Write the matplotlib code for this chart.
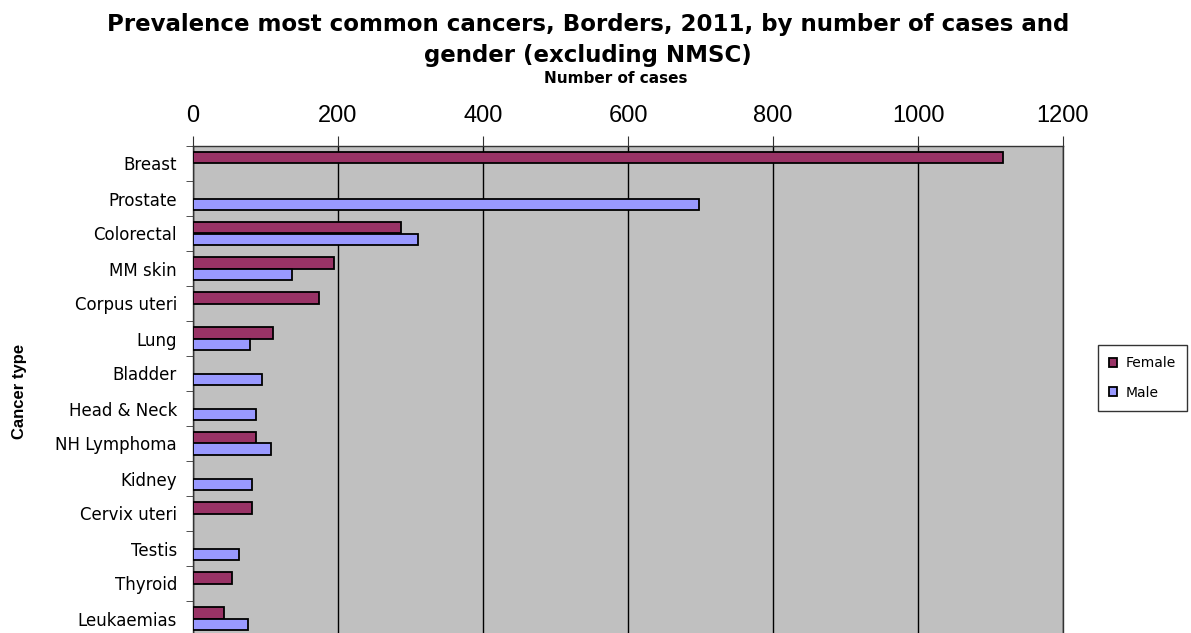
import matplotlib
matplotlib.use("Agg")
import matplotlib.pyplot as plt
import numpy as np

plt.rcParams['font.family'] = ['Liberation Sans', 'DejaVu Sans']

categories = ["Breast", "Prostate", "Colorectal", "MM skin", "Corpus uteri", "Lung",
              "Bladder", "Head & Neck", "NH Lymphoma", "Kidney", "Cervix uteri",
              "Testis", "Thyroid", "Leukaemias"]
female = [1117, 0, 287, 195, 174, 110, 0, 0, 87, 0, 82, 0, 54, 43]
male = [0, 698, 310, 136, 0, 79, 95, 87, 108, 82, 0, 64, 0, 76]
x_ticks = [0, 200, 400, 600, 800, 1000, 1200]

W, H = 1191, 633
fig = plt.figure(figsize=(W / 100, H / 100), dpi=100)
left, right, top, bottom = 193, 1063, 146, 636
ax = fig.add_axes([left / W, 1 - bottom / H, (right - left) / W, (bottom - top) / H])
ax.set_facecolor('#C0C0C0')

y = np.arange(len(categories))
h = 1 / 3
fy = [yy - h / 2 for yy, v in zip(y, female) if v > 0]
fv = [v for v in female if v > 0]
my = [yy + h / 2 for yy, v in zip(y, male) if v > 0]
mv = [v for v in male if v > 0]
ax.barh(fy, fv, height=h, color='#993366', edgecolor='black', linewidth=1.3, label='Female', zorder=3)
ax.barh(my, mv, height=h, color='#9999FF', edgecolor='black', linewidth=1.3, label='Male', zorder=3)

ax.set_xlim(0, 1200)
ax.set_ylim(len(categories) - 0.5, -0.5)
ax.set_xticks(x_ticks)
ax.xaxis.tick_top()
ax.xaxis.set_label_position('top')
ax.tick_params(axis='x', labelsize=17, length=7, pad=7, color='#333333')
ax.set_yticks(y)
ax.set_yticklabels(categories, fontfamily='DejaVu Sans', fontsize=12)
ax.set_yticks(np.arange(len(categories) + 1) - 0.5, minor=True)
ax.tick_params(axis='y', which='major', length=0, pad=11.5)
ax.tick_params(axis='y', which='minor', length=5, color='#333333')
ax.grid(axis='x', color='black', linewidth=1, zorder=1)
for s in ['top', 'left', 'right']:
    ax.spines[s].set_color('#333333')
    ax.spines[s].set_linewidth(1)
ax.spines['bottom'].set_visible(False)

ax.set_xlabel('Number of cases', fontsize=11, fontweight='bold', fontfamily='DejaVu Sans')
ax.xaxis.set_label_coords(0.486, (bottom - 83) / (bottom - top))
ax.xaxis.label.set_va('baseline')
ax.set_ylabel('Cancer type', fontsize=12, fontweight='bold')
ax.yaxis.set_label_coords(-0.191, 0.5)

fig.text(588 / W, 1 - 13 / H,
         'Prevalence most common cancers, Borders, 2011, by number of cases and\ngender (excluding NMSC)',
         ha='center', va='top', fontsize=16.5, fontweight='bold', fontfamily='DejaVu Sans',
         linespacing=1.42)

leg = ax.legend(loc='center left', bbox_to_anchor=(1098 / W, 1 - 378 / H),
                bbox_transform=fig.transFigure, frameon=True, fancybox=False,
                edgecolor='black', prop={'family': 'DejaVu Sans', 'size': 10},
                handlelength=0.6, handleheight=0.6, borderaxespad=0,
                handletextpad=0.6, labelspacing=1.1, borderpad=0.8)
leg.get_frame().set_linewidth(1)

fig.savefig('out.png', dpi=100)
